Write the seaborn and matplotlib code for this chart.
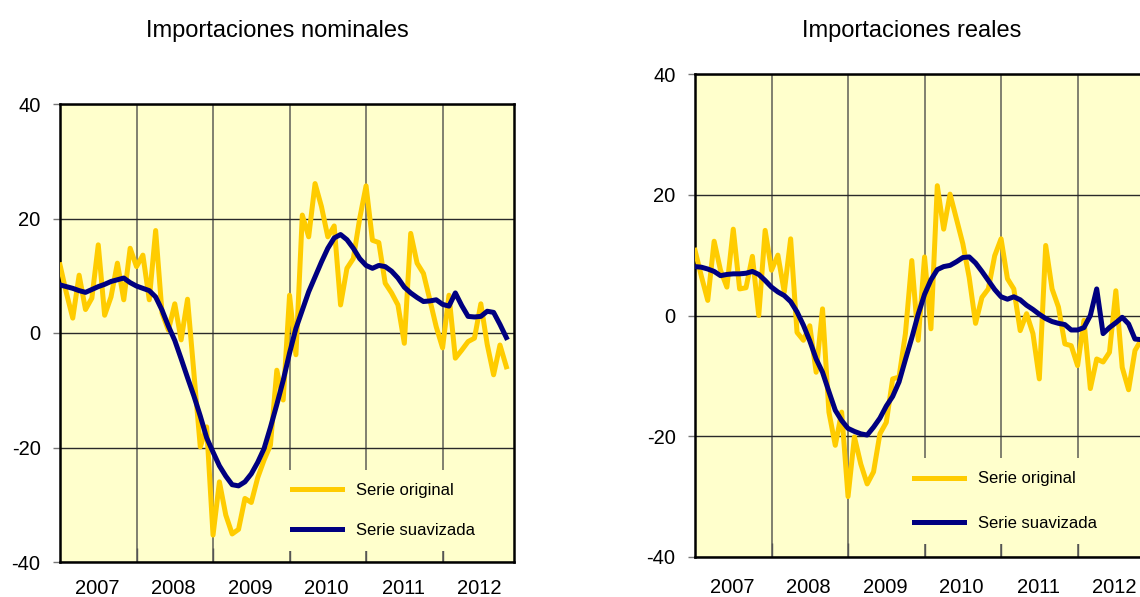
import numpy as np
import pandas as pd
import matplotlib
matplotlib.use("Agg")
import matplotlib.pyplot as plt
import seaborn as sns
from matplotlib.ticker import FixedLocator, NullFormatter, FixedFormatter

# ---------------- data (monthly, Jan 2007 .. Nov 2012) ----------------
year_labels = ["2007", "2008", "2009", "2010", "2011", "2012"]

nom_original = [11.9, 7.0, 2.6, 10.1, 4.1, 6.1, 15.4, 3.1, 6.3, 12.2, 5.8, 14.8,
                11.6, 13.6, 5.8, 17.9, 3.5, 0.5, 5.1, -1.2, 5.9, -7.0, -19.9, -16.4,
                -35.3, -26.0, -31.8, -35.1, -34.3, -28.9, -29.6, -25.3, -22.2, -19.6, -6.5, -11.7,
                6.6, -3.8, 20.6, 16.8, 26.1, 22.1, 16.8, 18.7, 4.9, 11.3, 13.0, 20.0,
                25.7, 16.2, 15.8, 8.7, 7.0, 4.9, -1.8, 17.4, 12.2, 10.4, 5.8, 1.1,
                -2.6, 6.6, -4.4, -3.0, -1.5, -0.9, 5.1, -2.0, -7.3, -2.1, -5.9]

nom_suavizada = [8.4, 8.1, 7.8, 7.4, 7.1, 7.6, 8.1, 8.5, 9.0, 9.3, 9.6, 8.8,
                 8.2, 7.8, 7.4, 6.3, 4.0, 1.2, -1.3, -4.5, -7.8, -11.0, -14.5, -18.3,
                 -20.8, -23.2, -25.0, -26.5, -26.7, -26.0, -24.6, -22.6, -20.2, -16.5, -12.5, -8.3,
                 -3.5, 0.8, 4.0, 7.2, 9.8, 12.4, 14.8, 16.6, 17.2, 16.3, 14.8, 13.0,
                 11.8, 11.3, 11.8, 11.6, 10.8, 9.6, 8.0, 7.0, 6.2, 5.5, 5.6, 5.8,
                 5.0, 4.7, 7.0, 4.8, 2.9, 2.8, 2.9, 3.8, 3.6, 1.5, -0.8]

real_original = [10.8, 6.5, 2.5, 12.3, 7.5, 4.7, 14.3, 4.4, 4.6, 9.8, 0.0, 14.1,
                 7.5, 10.0, 3.9, 12.7, -2.8, -4.1, -1.7, -9.4, 1.1, -16.0, -21.5, -16.0,
                 -30.0, -20.1, -24.6, -27.9, -25.9, -19.6, -17.7, -10.5, -10.2, -3.0, 9.1, -4.1,
                 9.7, -2.2, 21.5, 14.3, 20.1, 16.0, 11.9, 6.3, -1.3, 3.0, 4.4, 9.9,
                 12.7, 6.1, 4.4, -2.5, 0.3, -3.0, -10.5, 11.6, 4.4, 1.4, -4.7, -5.0,
                 -8.3, -0.8, -12.1, -7.2, -7.7, -6.1, 4.1, -8.6, -12.3, -5.8, -4.0]

real_suavizada = [8.1, 8.0, 7.7, 7.3, 6.6, 6.8, 6.9, 6.9, 7.0, 7.3, 6.8, 5.8,
                  4.7, 3.9, 3.3, 2.3, 0.6, -1.6, -4.2, -7.2, -9.4, -12.6, -15.7, -17.4,
                  -18.7, -19.2, -19.6, -19.8, -18.5, -17.0, -15.0, -13.4, -11.0, -7.3, -3.7, 0.2,
                  3.5, 5.9, 7.6, 8.1, 8.3, 8.9, 9.6, 9.7, 8.7, 7.3, 5.8, 4.3,
                  3.1, 2.7, 3.1, 2.6, 1.7, 1.0, 0.2, -0.5, -1.0, -1.3, -1.5, -2.4,
                  -2.4, -2.0, 0.0, 4.4, -3.0, -2.0, -1.2, -0.3, -1.4, -3.9, -4.0]

titles = ["Importaciones nominales", "Importaciones reales"]
series_names = ["Serie original", "Serie suavizada"]

# ---------------- style ----------------
plt.rcParams["font.family"] = ["Liberation Sans", "DejaVu Sans"]
plt.rcParams["axes.unicode_minus"] = False
BG = "#FFFFCC"
YELLOW = "#FFCC00"
NAVY = "#000080"

W, H = 1140, 597
fig = plt.figure(figsize=(W / 100, H / 100), dpi=100)

ax1 = fig.add_axes([60 / W, 35 / H, 454 / W, 458 / H])
ax2 = fig.add_axes([695 / W, 40 / H, 454 / W, 483 / H])


def draw(ax, orig, smooth, leg_anchor, labelspacing, xpad):
    df = pd.DataFrame({"mes": np.arange(len(orig)), "orig": orig, "smooth": smooth})
    ax.set_facecolor(BG)
    sns.lineplot(data=df, x="mes", y="orig", ax=ax, color=YELLOW, lw=3.6,
                 label=series_names[0], zorder=3)
    sns.lineplot(data=df, x="mes", y="smooth", ax=ax, color=NAVY, lw=3.6,
                 label=series_names[1], zorder=4)
    ax.set_xlim(0, 71.2)
    ax.set_ylim(-40, 40)
    ax.set_xlabel("")
    ax.set_ylabel("")
    ax.set_axisbelow(True)

    ax.yaxis.set_major_locator(FixedLocator([-40, -20, 0, 20, 40]))
    ax.xaxis.set_major_locator(FixedLocator([12, 24, 36, 48, 60]))
    ax.xaxis.set_major_formatter(NullFormatter())
    ax.xaxis.set_minor_locator(FixedLocator([5.8 + 12 * k for k in range(6)]))
    ax.xaxis.set_minor_formatter(FixedFormatter(year_labels))

    ax.grid(axis="x", which="major", color="#5e5e56", lw=1.1)
    ax.grid(axis="y", which="major", color="#2a2a2a", lw=1.0)
    ax.tick_params(axis="y", direction="out", length=5, width=1, color="#777777",
                   labelsize=14.5, pad=9)
    ax.tick_params(axis="x", which="major", direction="in", length=10, width=1,
                   color="#555555")
    ax.tick_params(axis="x", which="minor", length=0, labelsize=14.5, pad=xpad)
    for s in ax.spines.values():
        s.set_color("black")
        s.set_linewidth(1.8)

    ax.legend(loc="lower left", bbox_to_anchor=leg_anchor, frameon=True,
              facecolor=BG, edgecolor="none", framealpha=1, fancybox=False,
              fontsize=12, handlelength=3.0, handletextpad=0.8,
              labelspacing=labelspacing, borderpad=0.8, borderaxespad=0)


draw(ax1, nom_original, nom_suavizada, ((279 - 60) / 454, (562 - 551) / 458), 1.48, 12)
draw(ax2, real_original, real_suavizada, ((901 - 695) / 454, (557 - 544) / 483), 1.75, 15)

fig.text(277.5 / W, 1 - 31 / H, titles[0], ha="center", va="center", fontsize=17)
fig.text(911.5 / W, 1 - 31 / H, titles[1], ha="center", va="center", fontsize=17)

fig.savefig("out.png", dpi=100, facecolor="white")
